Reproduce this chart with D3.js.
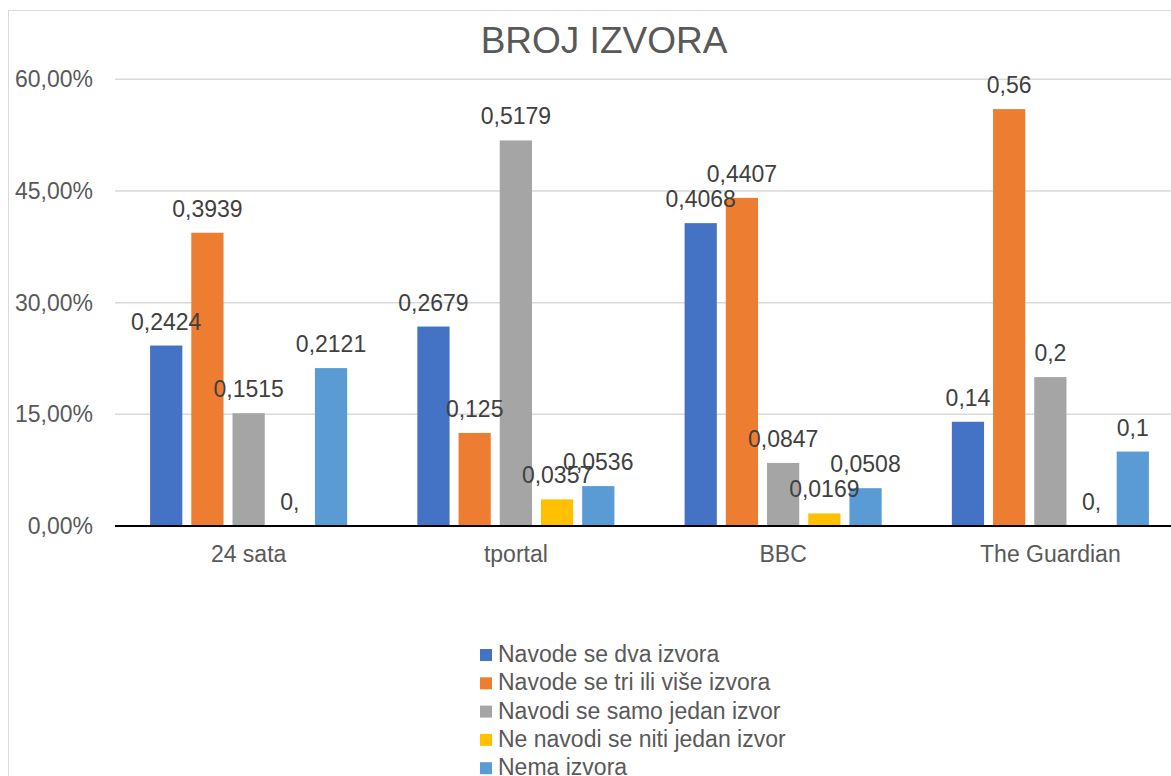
<!DOCTYPE html>
<html>
<head>
<meta charset="utf-8">
<script src="https://cdn.jsdelivr.net/npm/d3@7"></script>
<style>
  body { margin: 0; background: #fff; }
  text { font-family: "Liberation Sans", Arial, sans-serif; }
</style>
</head>
<body>
<svg></svg>
<script>
// categories and series
var categories = ["24 sata", "tportal", "BBC", "The Guardian"];
var seriesNames = ["Navode se dva izvora", "Navode se tri ili više izvora", "Navodi se samo jedan izvor", "Ne navodi se niti jedan izvor", "Nema izvora"];
var dvaIzvora = [0.2424, 0.2679, 0.4068, 0.14];
var triIliVise = [0.3939, 0.125, 0.4407, 0.56];
var samoJedan = [0.1515, 0.5179, 0.0847, 0.2];
var nitiJedan = [0, 0.0357, 0.0169, 0];
var nemaIzvora = [0.2121, 0.0536, 0.0508, 0.1];
var yTicks = [0, 0.15, 0.30, 0.45, 0.60];

var colors = ["#4472C4", "#ED7D31", "#A5A5A5", "#FFC000", "#5B9BD5"];
var allSeries = [dvaIzvora, triIliVise, samoJedan, nitiJedan, nemaIzvora];

var svgWidth = 1171, svgHeight = 776;

var svg = d3.select("svg")
    .attr("width", svgWidth)
    .attr("height", svgHeight);

// chart border
svg.append("rect")
    .attr("x", 8.5).attr("y", 10.5)
    .attr("width", 1200).attr("height", 900)
    .attr("fill", "none")
    .attr("stroke", "#D9D9D9")
    .attr("stroke-width", 1);

var x0 = d3.scaleBand()
    .domain(categories)
    .range([115, 1184])
    .paddingInner(0.229)
    .paddingOuter(0.1145);

var x1 = d3.scaleBand()
    .domain(d3.range(seriesNames.length))
    .range([0, x0.bandwidth()])
    .paddingInner(0.218)
    .paddingOuter(0.109);

var y = d3.scaleLinear()
    .domain([0, 0.6])
    .range([526, 79.3]);

function pct(v) {
    return d3.format(".2f")(v * 100).replace(".", ",") + "%";
}
function lab(v) {
    return v === 0 ? "0," : String(v).replace(".", ",");
}

// gridlines
svg.append("g")
    .selectAll("line")
    .data(yTicks.slice(1))
    .enter()
    .append("line")
    .attr("x1", 115).attr("x2", svgWidth)
    .attr("y1", function(d) { return y(d); })
    .attr("y2", function(d) { return y(d); })
    .attr("stroke", "#D9D9D9")
    .attr("stroke-width", 1.5);

// y tick labels
svg.append("g")
    .selectAll("text")
    .data(yTicks)
    .enter()
    .append("text")
    .attr("x", 93)
    .attr("y", function(d) { return y(d); })
    .attr("dy", "0.35em")
    .attr("text-anchor", "end")
    .attr("font-size", 23)
    .attr("fill", "#595959")
    .text(pct);

// bars
var groups = svg.append("g")
    .selectAll("g")
    .data(categories)
    .enter()
    .append("g")
    .attr("transform", function(d) { return "translate(" + x0(d) + ",0)"; });

groups.selectAll("rect")
    .data(function(d, ci) { return allSeries.map(function(s, si) { return {si: si, v: s[ci]}; }); })
    .enter()
    .append("rect")
    .attr("x", function(d) { return x1(d.si); })
    .attr("width", x1.bandwidth())
    .attr("y", function(d) { return y(d.v); })
    .attr("height", function(d) { return y(0) - y(d.v); })
    .attr("fill", function(d) { return colors[d.si]; });

groups.selectAll("text")
    .data(function(d, ci) { return allSeries.map(function(s, si) { return {si: si, v: s[ci]}; }); })
    .enter()
    .append("text")
    .attr("x", function(d) { return x1(d.si) + x1.bandwidth() / 2; })
    .attr("y", function(d) { return y(d.v) - 16; })
    .attr("text-anchor", "middle")
    .attr("font-size", 23)
    .attr("fill", "#404040")
    .text(function(d) { return lab(d.v); });

// x axis line
svg.append("line")
    .attr("x1", 115).attr("x2", svgWidth)
    .attr("y1", y(0)).attr("y2", y(0))
    .attr("stroke", "#000")
    .attr("stroke-width", 2);

// x labels
svg.append("g")
    .selectAll("text")
    .data(categories)
    .enter()
    .append("text")
    .attr("x", function(d) { return x0(d) + x0.bandwidth() / 2; })
    .attr("y", 562)
    .attr("text-anchor", "middle")
    .attr("font-size", 23)
    .attr("fill", "#595959")
    .text(function(d) { return d; });

// title
svg.append("text")
    .attr("x", 604)
    .attr("y", 53)
    .attr("text-anchor", "middle")
    .attr("font-size", 37)
    .attr("fill", "#595959")
    .text("BROJ IZVORA");

// legend
var legend = svg.append("g")
    .selectAll("g")
    .data(seriesNames)
    .enter()
    .append("g")
    .attr("transform", function(d, i) { return "translate(480," + (662 + i * 28.3) + ")"; });

legend.append("rect")
    .attr("x", 0).attr("y", -13)
    .attr("width", 12).attr("height", 12)
    .attr("fill", function(d, i) { return colors[i]; });

legend.append("text")
    .attr("x", 18)
    .attr("y", 0)
    .attr("font-size", 23)
    .attr("fill", "#595959")
    .text(function(d) { return d; });
</script>
</body>
</html>
